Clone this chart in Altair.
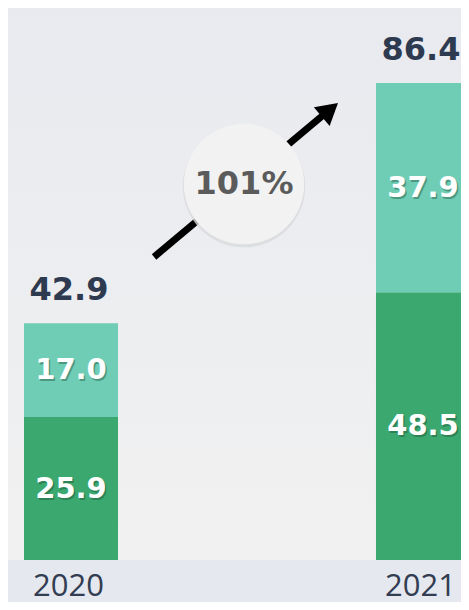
import altair as alt
import pandas as pd

# ---- data ----
years = [2020, 2021]
base_values = [25.9, 48.5]
top_values = [17.0, 37.9]
totals = [42.9, 86.4]
growth_text = ["101%"]

# annotation (in data units: x = year, y = value)
arrow_x = [2020.236, 2020.724]
arrow_y = [54.9, 81.0]
arrow_head_x = [2020.7355]
arrow_head_y = [81.56]
badge_x = [2020.4915]
badge_y = [68.1]

DARK = "#3aa86f"
LIGHT = "#6fcdb5"
TXT = "#2e3a4f"

rows = []
for y, b, t in zip(years, base_values, top_values):
    rows.append({"year": y, "segment": "base", "idx": 0, "value": b})
    rows.append({"year": y, "segment": "top", "idx": 1, "value": t})
seg_df = pd.DataFrame(rows)
tot_df = pd.DataFrame({"year": years, "total": totals})
arrow_df = pd.DataFrame({"x": arrow_x, "y": arrow_y})
head_df = pd.DataFrame({"x": arrow_head_x, "y": arrow_head_y})
badge_df = pd.DataFrame({"x": badge_x, "y": badge_y, "label": growth_text})

W, H = 453, 552
xscale = alt.Scale(domain=[2019.821, 2021.108], nice=False, zero=False, padding=0)
yscale = alt.Scale(domain=[0, 100], nice=False, zero=True, padding=0)
x_axis = alt.Axis(values=years, format="d", title=None, domain=False,
                  ticks=False, grid=False, labelFontSize=31,
                  labelFont="Open Sans", labelColor="#333d52",
                  labelPadding=11, labelFlush=False, labelOffset=-3)


def X(field):
    return alt.X(field, scale=xscale, axis=x_axis, title=None)


def Y(field):
    return alt.Y(field, scale=yscale, axis=None, title=None)


bg = alt.Chart(pd.DataFrame({"a": [0]})).mark_rect(
    fill=alt.Gradient(
        gradient="linear",
        stops=[alt.GradientStop(color="#e8eaef", offset=0),
               alt.GradientStop(color="#f1f1f1", offset=1)],
        x1=0, x2=0, y1=0, y2=1,
    )
).encode(x=alt.value(0), x2=alt.value(W), y=alt.value(0), y2=alt.value(H))

stacked = alt.Chart(seg_df).transform_stack(
    stack="value", groupby=["year"], as_=["y0", "y1"],
    sort=[alt.SortField("idx", order="ascending")],
).transform_calculate(mid="(datum.y0 + datum.y1) / 2")

bars = stacked.mark_bar(size=94, clip=True).encode(
    x=X("year:Q"),
    y=Y("y0:Q"),
    y2="y1:Q",
    color=alt.Color("segment:N", scale=alt.Scale(domain=["base", "top"], range=[DARK, LIGHT]), legend=None),
)

inner_shadow = stacked.mark_text(
    font="DejaVu Sans", fontWeight="bold", fontSize=29, color="#1b4d33",
    opacity=0.4, dx=1.5, dy=2, baseline="middle",
).encode(x=X("year:Q"), y=Y("mid:Q"), text=alt.Text("value:Q", format=".1f"))
inner = stacked.mark_text(
    font="DejaVu Sans", fontWeight="bold", fontSize=29, color="white", baseline="middle",
).encode(x=X("year:Q"), y=Y("mid:Q"), text=alt.Text("value:Q", format=".1f"))

tot = alt.Chart(tot_df).mark_text(
    font="DejaVu Sans", fontWeight="bold", fontSize=32, color=TXT,
    baseline="alphabetic", dy=-23, dx=-2,
).encode(x=X("year:Q"), y=Y("total:Q"), text=alt.Text("total:Q", format=".1f"))

shaft = alt.Chart(arrow_df).mark_line(color="black", strokeWidth=7, strokeCap="butt").encode(
    x=X("x:Q"), y=Y("y:Q"),
)
head = alt.Chart(head_df).mark_point(
    shape="triangle-up", size=600, filled=True, color="black", opacity=1, angle=50,
).encode(x=X("x:Q"), y=Y("y:Q"))

badge_shadow = alt.Chart(badge_df).mark_circle(
    size=15000, color="#d8d9dc", opacity=0.8, yOffset=2,
).encode(x=X("x:Q"), y=Y("y:Q"))
badge = alt.Chart(badge_df).mark_circle(
    size=14500, color="#f2f2f2", opacity=1,
).encode(x=X("x:Q"), y=Y("y:Q"))
badge_text = alt.Chart(badge_df).mark_text(
    font="DejaVu Sans", fontWeight="bold", fontSize=32, color="#5b5b5b", baseline="middle",
).encode(x=X("x:Q"), y=Y("y:Q"), text="label:N")

chart = alt.layer(
    bg, bars, inner_shadow, inner, tot, shaft, head, badge_shadow, badge, badge_text
).properties(
    width=W, height=H,
    autosize=alt.AutoSizeParams(type="none"),
    padding={"left": 0, "top": 0, "right": 0, "bottom": 42},
    background="#e5e8ef",
).configure_view(stroke=None)

chart.save("out.html", embed_options={"renderer": "svg", "actions": False})
